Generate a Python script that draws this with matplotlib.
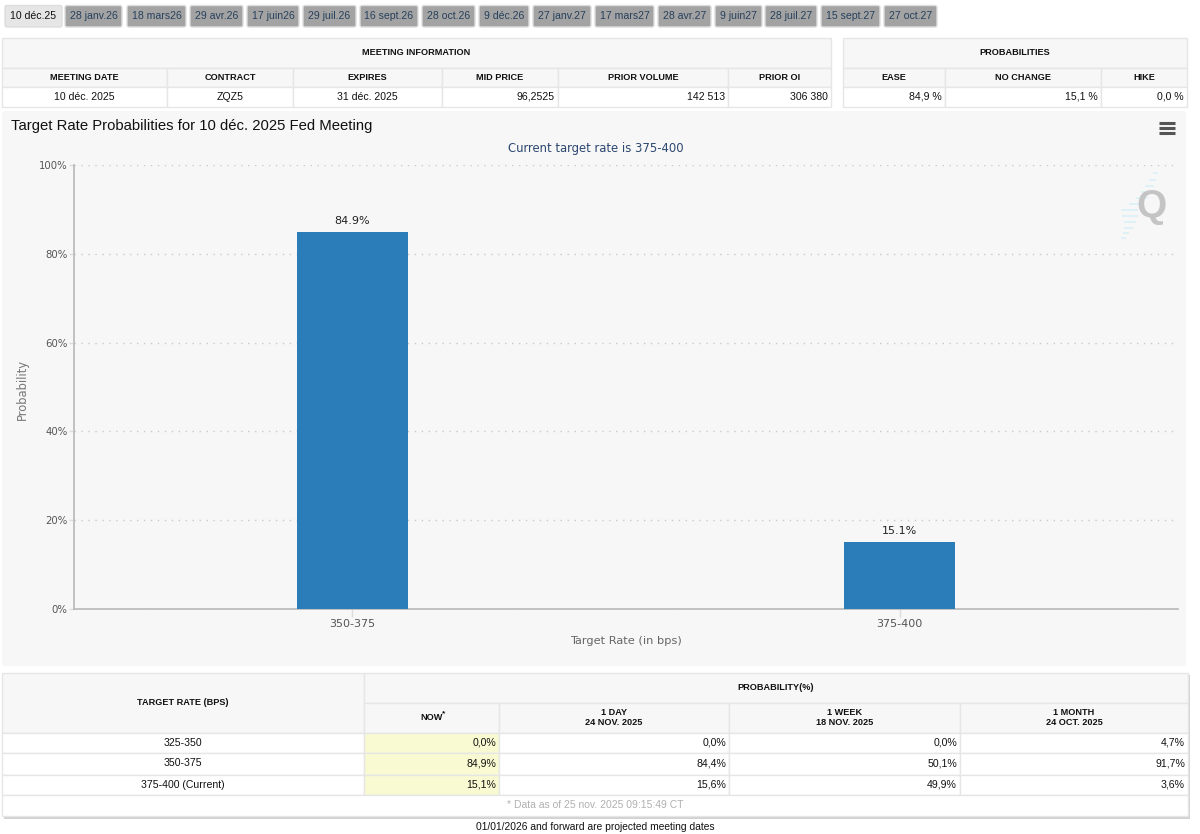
import matplotlib
matplotlib.use("Agg")
import matplotlib.pyplot as plt
from matplotlib.patches import Rectangle, FancyBboxPatch

W, H = 1200, 834

plt.rcParams["font.family"] = ["Liberation Sans", "DejaVu Sans"]

# data
tabs = ["10 déc.25", "28 janv.26", "18 mars26", "29 avr.26", "17 juin26", "29 juil.26", "16 sept.26",
        "28 oct.26", "9 déc.26", "27 janv.27", "17 mars27", "28 avr.27", "9 juin27", "28 juil.27",
        "15 sept.27", "27 oct.27"]
rates = ["350-375", "375-400"]
probs = [84.9, 15.1]
y_ticks = [0, 20, 40, 60, 80, 100]

info_head = ["MEETING DATE", "CONTRACT", "EXPIRES", "MID PRICE", "PRIOR VOLUME", "PRIOR OI"]
info_vals = ["10 déc. 2025", "ZQZ5", "31 déc. 2025", "96,2525", "142 513", "306 380"]
prob_head = ["EASE", "NO CHANGE", "HIKE"]
prob_vals = ["84,9 %", "15,1 %", "0,0 %"]

hist_rates = ["325-350", "350-375", "375-400 (Current)"]
hist_now = ["0,0%", "84,9%", "15,1%"]
hist_day = ["0,0%", "84,4%", "15,6%"]
hist_week = ["0,0%", "50,1%", "49,9%"]
hist_month = ["4,7%", "91,7%", "3,6%"]

LINE = "#e6e6e6"
HEAD = "#f7f7f7"
TXT = "#111111"

fig = plt.figure(figsize=(W / 100, H / 100), dpi=100, facecolor="white")

# overlay in pixel coordinates for the page furniture
bg = fig.add_axes([0, 0, 1, 1], zorder=0)
bg.set_xlim(0, W)
bg.set_ylim(H, 0)
bg.axis("off")


def cell(x0, x1, y0, y1, text="", fc="white", ha="center", weight="normal", color=TXT, size=7.6, pad=3):
    bg.add_patch(Rectangle((x0, y0), x1 - x0, y1 - y0, fc=fc, ec=LINE, lw=1))
    if text:
        tx = (x0 + x1) / 2 if ha == "center" else x1 - pad
        bg.text(tx, (y0 + y1) / 2 - 0.5, text, ha=ha, va="center", fontsize=size, fontweight=weight, color=color)


# meeting tabs
tab_edges = [(5, 62), (65, 122), (127, 186), (190, 243), (247, 299), (303, 356), (360, 418), (422, 475),
             (479, 529), (533, 591), (595, 654), (658, 711), (715, 762), (765, 817), (821, 880), (884, 937)]
for i, (name, (x0, x1)) in enumerate(zip(tabs, tab_edges)):
    active = i == 0
    bg.add_patch(FancyBboxPatch((x0, 5.5), x1 - x0, 21.5, boxstyle="round,pad=0,rounding_size=2",
                                fc="#e6e6e6" if active else "#a3a3a3", ec="#dddddd", lw=1))
    bg.text((x0 + x1) / 2, 16, name, ha="center", va="center", fontsize=7.6,
            color="#111111" if active else "#27405c")

# meeting information table
info_x = [2, 167, 293, 442, 558, 728, 831]
cell(2, 831, 38, 68, "MEETING INFORMATION", fc=HEAD, weight="bold", size=6.6)
for i in range(6):
    cell(info_x[i], info_x[i + 1], 68, 87, info_head[i], fc=HEAD, weight="bold", size=6.6)
    ha = "center" if i < 3 else "right"
    cell(info_x[i], info_x[i + 1], 87, 107, info_vals[i], ha=ha)

# probabilities table
prob_x = [843, 945, 1101, 1187]
cell(843, 1187, 38, 68, "PROBABILITIES", fc=HEAD, weight="bold", size=6.6)
for i in range(3):
    cell(prob_x[i], prob_x[i + 1], 68, 87, prob_head[i], fc=HEAD, weight="bold", size=6.6)
    cell(prob_x[i], prob_x[i + 1], 87, 107, prob_vals[i], ha="right")

# chart panel
bg.add_patch(FancyBboxPatch((2, 111), 1184, 555, boxstyle="round,pad=0,rounding_size=3", fc="#f7f7f7", ec="none"))
bg.text(11, 126, "Target Rate Probabilities for 10 déc. 2025 Fed Meeting", ha="left", va="center",
        fontsize=10.7, color="#111111")
bg.text(595.5, 148, "Current target rate is 375-400", ha="center", va="center", fontsize=8.4,
        family="DejaVu Sans", color="#2c4770")

# hamburger menu
for yy in (123, 128, 133):
    bg.plot([1159, 1175], [yy, yy], color="#555555", lw=2.2, solid_capstyle="butt")

# watermark
for yy, x0, x1 in [(173, 1154, 1157), (180, 1150, 1155), (186, 1146, 1153), (192, 1142, 1150),
                   (198, 1137, 1147), (204, 1130, 1143), (210, 1122, 1137), (216, 1123, 1137),
                   (222, 1125, 1135), (228, 1125, 1132), (233, 1124, 1128), (238, 1122, 1125)]:
    bg.plot([x0, x1], [yy, yy], color="#d8f0f8", lw=1.2)
bg.text(1152, 207, "Q", ha="center", va="center", fontsize=28, fontweight="bold", color="#c4c4c4")

# bar chart
ax = fig.add_axes([74 / W, 1 - 609 / H, (1178 - 74) / W, (609 - 165) / H], zorder=2)
ax.patch.set_alpha(0)
pos = range(len(rates))
bars = ax.bar(pos, probs, width=0.203, color="#2a7db8", zorder=3)
ax.set_xlim(-0.509, 1.509)
ax.set_ylim(0, 100)
ax.set_xticks(list(pos))
ax.set_xticklabels(rates)
ax.set_yticks(y_ticks)
ax.set_yticklabels([f"{v}%" for v in y_ticks])
ax.grid(axis="y", color="#c9c9c9", linestyle=(0, (1, 4)), lw=1, zorder=1)
ax.grid(axis="x", visible=False)
for s in ("top", "right"):
    ax.spines[s].set_visible(False)
for s in ("left", "bottom"):
    ax.spines[s].set_color("#b8b8b8")
    ax.spines[s].set_linewidth(1.2)
ax.tick_params(axis="y", length=3.6, width=1, color="#dcdcdc", labelsize=7.3, labelcolor="#555555", pad=1)
ax.tick_params(axis="x", length=6, width=1, color="#dcdcdc", labelsize=8, labelcolor="#555555", pad=1.5)
for lab in ax.get_xticklabels() + ax.get_yticklabels():
    lab.set_family("DejaVu Sans")
for b, v in zip(bars, probs):
    ax.annotate(f"{v}%", (b.get_x() + b.get_width() / 2, v), xytext=(0, 4.5), textcoords="offset points",
                ha="center", va="bottom", fontsize=8, family="DejaVu Sans", color="#222222")
ax.set_ylabel("Probability", fontsize=8.3, family="DejaVu Sans", color="#777777", labelpad=7, y=0.495)
ax.set_xlabel("Target Rate (in bps)", fontsize=8.2, family="DejaVu Sans", color="#666666", labelpad=5)

# history table
bg.add_patch(Rectangle((4, 675), 1186, 144, fc="#d2d2d2", ec="none"))
hx = [2, 364, 499, 729, 960, 1188]
cell(hx[0], hx[1], 673, 733, "TARGET RATE (BPS)", fc=HEAD, weight="bold", size=6.6)
cell(hx[1], hx[5], 673, 703, "PROBABILITY(%)", fc=HEAD, weight="bold", size=6.6)
cell(hx[1], hx[2], 703, 733, "NOW", fc=HEAD, weight="bold", size=6.6)
bg.text(444, 714, "*", ha="center", va="center", fontsize=6, fontweight="bold", color=TXT)
hist_heads = ["1 DAY\n24 NOV. 2025", "1 WEEK\n18 NOV. 2025", "1 MONTH\n24 OCT. 2025"]
for i, head in enumerate(hist_heads):
    cell(hx[i + 2], hx[i + 3], 703, 733, head, fc=HEAD, weight="bold", size=6.6)
row_y = [733, 753, 775, 795]
for r in range(3):
    y0, y1 = row_y[r], row_y[r + 1]
    cell(hx[0], hx[1], y0, y1, hist_rates[r])
    cell(hx[1], hx[2], y0, y1, hist_now[r], fc="#fafad2", ha="right")
    cell(hx[2], hx[3], y0, y1, hist_day[r], ha="right")
    cell(hx[3], hx[4], y0, y1, hist_week[r], ha="right")
    cell(hx[4], hx[5], y0, y1, hist_month[r], ha="right")
cell(hx[0], hx[5], 795, 816, "* Data as of 25 nov. 2025 09:15:49 CT", color="#b0b0b0", size=7.5)

bg.text(595, 827.5, "01/01/2026 and forward are projected meeting dates", ha="center", va="center",
        fontsize=7.4, color="#111111")

fig.savefig("out.png", dpi=100, facecolor="white")
